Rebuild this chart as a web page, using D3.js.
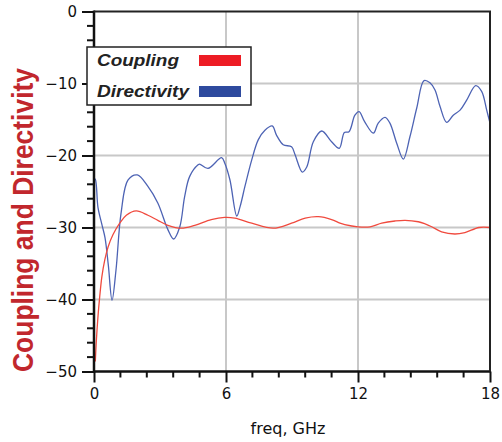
<!DOCTYPE html>
<html><head><meta charset="utf-8">
<script src="https://cdn.jsdelivr.net/npm/d3@7/dist/d3.min.js"></script>
<style>body{margin:0;background:#fff}svg{display:block}</style>
</head><body>
<svg id="c" width="502" height="442"></svg>
<script>
const seriesNames = ["Coupling", "Directivity"];
const seriesColors = ["#ed1c24", "#2e4a9e"];
const lineColors = ["#f04a3e", "#4d63b4"];
const xTicks = [0, 6, 12, 18];
const yTicks = [0, -10, -20, -30, -40, -50];
const couplingFreq = [0.06,0.1,0.18,0.26,0.36,0.49,0.64,0.86,1.17,1.47,1.92,2.45,2.9,3.36,3.97,4.58,5.33,5.94,6.4,7.17,8.15,8.98,9.6,10.2,10.8,11.18,11.4,12.0,12.55,13.08,13.68,14.14,14.74,15.05,15.35,15.8,16.4,16.86,17.5,18];
const couplingDb = [-48.6,-46.1,-42.4,-39.6,-36.8,-34.5,-32.7,-31.0,-29.4,-28.3,-27.7,-28.3,-29.0,-29.7,-30.1,-29.7,-28.9,-28.6,-28.7,-29.4,-30.1,-29.4,-28.7,-28.5,-28.9,-29.4,-29.6,-29.9,-29.9,-29.4,-29.1,-29.0,-29.2,-29.5,-29.9,-30.6,-30.9,-30.7,-30.0,-30.0];
const directivityFreq = [0,0.06,0.18,0.36,0.5,0.65,0.82,1.0,1.23,1.55,1.97,2.45,2.9,3.36,3.62,3.9,4.12,4.35,4.73,4.8,5.18,5.8,5.95,6.18,6.49,6.64,6.86,7.17,7.47,7.77,8.1,8.3,8.6,8.98,9.14,9.47,9.67,9.97,10.35,10.8,11.15,11.38,11.59,11.86,12.05,12.3,12.7,12.92,13.23,13.45,13.76,14.06,14.36,14.67,15.0,15.27,15.5,15.73,16.03,16.33,16.64,16.94,17.35,17.62,17.85,18];
const directivityDb = [-23.2,-23.3,-27.2,-29.6,-31.4,-35.2,-40.1,-35.9,-28.0,-23.4,-22.7,-24.3,-26.6,-30.3,-31.6,-29.9,-25.7,-22.9,-21.3,-21.2,-21.8,-20.3,-21.1,-23.4,-28.4,-27.1,-24.3,-20.6,-17.8,-16.5,-15.9,-17.2,-18.5,-18.8,-19.9,-22.3,-21.6,-18.1,-16.6,-18.1,-19.0,-16.8,-16.7,-14.4,-13.9,-15.3,-16.9,-15.5,-14.7,-15.5,-18.3,-20.5,-17.4,-13.4,-9.6,-9.9,-10.9,-13.2,-15.4,-14.4,-13.7,-12.3,-10.3,-11.1,-13.7,-15.5];

const svg = d3.select("#c");
const L = 94, R = 490, T = 11.5, B = 371.5;
const x = d3.scaleLinear().domain([0, 18]).range([L, R]);
const y = d3.scaleLinear().domain([0, -50]).range([T, B]);
const font = "'DejaVu Sans', sans-serif";

// grid
const g = svg.append("g");
g.selectAll(".gx").data(xTicks.slice(1, -1)).enter().append("line")
  .attr("x1", d => x(d)).attr("x2", d => x(d)).attr("y1", T).attr("y2", B)
  .attr("stroke", "#c8c8c8").attr("stroke-width", 2);
g.selectAll(".gy").data(yTicks.slice(1, -1)).enter().append("line")
  .attr("y1", d => y(d)).attr("y2", d => y(d)).attr("x1", L).attr("x2", R)
  .attr("stroke", "#c8c8c8").attr("stroke-width", 2);

// lines
svg.append("clipPath").attr("id", "clip").append("rect")
  .attr("x", L).attr("y", T).attr("width", R - L).attr("height", B - T);
const line = d3.line().x(d => x(d[0])).y(d => y(d[1])).curve(d3.curveCatmullRom.alpha(0.5));
const cData = couplingFreq.map((f, i) => [f, couplingDb[i]]);
const dData = directivityFreq.map((f, i) => [f, directivityDb[i]]);
const lines = svg.append("g").attr("clip-path", "url(#clip)");
lines.append("path").datum(dData).attr("d", line).attr("fill", "none")
  .attr("stroke", lineColors[1]).attr("stroke-width", 1.3);
lines.append("path").datum(cData).attr("d", line).attr("fill", "none")
  .attr("stroke", lineColors[0]).attr("stroke-width", 1.3);

// axes
const yAxis = d3.axisLeft(y).tickValues(yTicks).tickSize(12).tickFormat(d3.format("d"));
const ya = svg.append("g").attr("transform", `translate(${L},0)`).call(yAxis);
const xAxis = d3.axisBottom(x).tickValues(xTicks).tickSize(11).tickFormat(d3.format("d"));
const xa = svg.append("g").attr("transform", `translate(0,${B})`).call(xAxis);
[ya, xa].forEach(a => {
  a.select(".domain").remove();
  a.selectAll(".tick line").attr("stroke", "#111").attr("stroke-width", 2);
  a.selectAll("text").attr("font-family", font).attr("font-size", 15).attr("fill", "#111");
});
ya.selectAll("text").attr("x", -17);
xa.selectAll("text").attr("y", 17);

// minor ticks
const yMinor = d3.range(-48, 0, 2).filter(v => v % 10 !== 0);
svg.append("g").selectAll("line").data(yMinor).enter().append("line")
  .attr("x1", L - 7).attr("x2", L).attr("y1", d => y(d)).attr("y2", d => y(d))
  .attr("stroke", "#111").attr("stroke-width", 2);
const xMinor = d3.range(1.2, 18, 1.2).filter(v => Math.abs(v / 6 - Math.round(v / 6)) > 1e-6);
svg.append("g").selectAll("line").data(xMinor).enter().append("line")
  .attr("x1", d => x(d)).attr("x2", d => x(d)).attr("y1", B).attr("y2", B + 6)
  .attr("stroke", "#111").attr("stroke-width", 2);

// frame
svg.append("line").attr("x1", L).attr("x2", L).attr("y1", T - 1).attr("y2", B + 1)
  .attr("stroke", "#111").attr("stroke-width", 2.5);
svg.append("line").attr("x1", L - 1).attr("x2", R + 1).attr("y1", B).attr("y2", B)
  .attr("stroke", "#111").attr("stroke-width", 2.5);
svg.append("line").attr("x1", L).attr("x2", R + 1).attr("y1", T).attr("y2", T)
  .attr("stroke", "#222").attr("stroke-width", 2);
svg.append("line").attr("x1", R).attr("x2", R).attr("y1", T).attr("y2", B)
  .attr("stroke", "#222").attr("stroke-width", 2);

// axis titles
svg.append("text").attr("x", 288).attr("y", 434).attr("text-anchor", "middle")
  .attr("font-family", font).attr("font-size", 16).attr("fill", "#111").text("freq, GHz");
svg.append("text").attr("transform", "translate(33,220) rotate(-90)")
  .attr("text-anchor", "middle").attr("font-family", "'Liberation Sans', Arial, sans-serif")
  .attr("font-weight", "bold").attr("font-size", 30).attr("fill", "#c1272d")
  .attr("textLength", 304).attr("lengthAdjust", "spacingAndGlyphs")
  .text("Coupling and Directivity");

// legend
const lg = svg.append("g");
lg.append("rect").attr("x", 87).attr("y", 47).attr("width", 164).attr("height", 58)
  .attr("fill", "#fff").attr("stroke", "#222").attr("stroke-width", 1.5);
const lw = [82, 92];
seriesNames.forEach((n, i) => {
  lg.append("text").attr("x", 97).attr("y", 65.5 + i * 31)
    .attr("font-family", "'Liberation Sans', Arial, sans-serif").attr("font-weight", "bold")
    .attr("font-style", "italic").attr("font-size", 17).attr("fill", "#222")
    .attr("textLength", lw[i]).attr("lengthAdjust", "spacingAndGlyphs").text(n);
  lg.append("rect").attr("x", 199).attr("y", 55 + i * 31).attr("width", 42).attr("height", 11)
    .attr("fill", seriesColors[i]);
});
</script>
</body></html>
